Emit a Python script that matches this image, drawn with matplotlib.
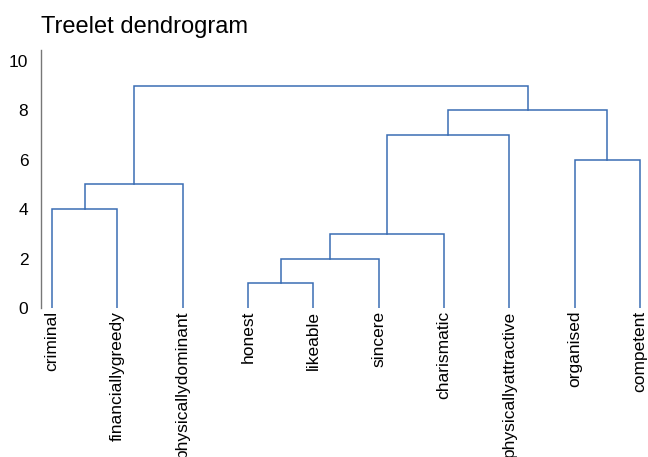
import matplotlib
matplotlib.use("Agg")
import matplotlib.pyplot as plt

plt.rcParams['font.family'] = ['Liberation Sans', 'DejaVu Sans']

# leaf order as drawn, left to right
leaves = ["criminal", "financiallygreedy", "physicallydominant", "honest",
          "likeable", "sincere", "charismatic", "physicallyattractive",
          "organised", "competent"]

# merges: (left node, right node, height); nodes are leaf names or merge index
merges = [
    ("criminal", "financiallygreedy", 4),
    (0, "physicallydominant", 5),
    ("honest", "likeable", 1),
    (2, "sincere", 2),
    (3, "charismatic", 3),
    (4, "physicallyattractive", 7),
    ("organised", "competent", 6),
    (5, 6, 8),
    (1, 7, 9),
]

line_color = "#3a6db4"

fig = plt.figure(figsize=(6.48, 4.57), dpi=100)
ax = fig.add_axes([0.063, 0.326, 0.935, 0.565])

pos = {}
for i, name in enumerate(leaves):
    pos[name] = (i, 0)

for k, (a, b, h) in enumerate(merges):
    xa, ya = pos[a]
    xb, yb = pos[b]
    ax.plot([xa, xa, xb, xb], [ya, h, h, yb], color=line_color, lw=1.1,
            solid_joinstyle="miter")
    pos[k] = ((xa + xb) / 2, h)

ax.set_xlim(-0.17, 9.1)
ax.set_ylim(0, 10.45)
ax.set_yticks([0, 2, 4, 6, 8, 10])
ax.set_xticks(range(len(leaves)))
ax.set_xticklabels(leaves, rotation=90, fontsize=12.5)
ax.tick_params(axis="y", length=0, labelsize=12.5, pad=9)
ax.tick_params(axis="x", length=0, pad=2)

for s in ["top", "right", "bottom"]:
    ax.spines[s].set_visible(False)
ax.spines["left"].set_color("#777777")
ax.spines["left"].set_linewidth(1.0)

ax.set_title("Treelet dendrogram", loc="left", fontsize=17, pad=12)

plt.savefig("out.png", dpi=100)
plt.close()
